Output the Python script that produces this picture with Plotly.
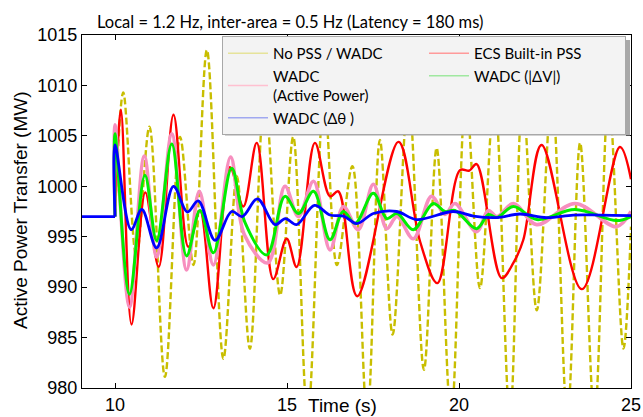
import plotly.graph_objects as go

# ---------------- data ----------------
t_pre = [9.04, 10.0]
p_pre = [997.0, 997.0]

t_nopss = [10.0, 10.24, 10.62, 11.0, 11.45, 11.89, 12.28, 12.67, 13.15, 13.54, 13.92, 14.35,
           14.80, 15.18, 15.60, 16.08, 16.45, 16.9, 17.33, 17.70, 18.07, 18.53, 18.98, 19.35,
           19.77, 20.2, 20.61, 21.03, 21.48, 21.85, 22.26, 22.7, 23.15, 23.52, 23.94, 24.35,
           24.78, 25.0]
p_nopss = [997.0, 1009.3, 993.0, 1005.9, 981.1, 1004.9, 992.2, 1013.5, 982.9, 1001.0, 983.9, 1009.0,
           989.2, 1004.9, 977.0, 1009.0, 992.2, 1002.0, 977.0, 1004.6, 985.3, 1009.0, 981.8, 1003.8,
           977.0, 1009.0, 989.9, 1009.0, 977.0, 1009.0, 987.7, 1009.0, 977.0, 1004.3, 977.0, 1009.0,
           983.9, 996.0]

t_ecs = [10.0, 10.17, 10.48, 10.88, 11.27, 11.70, 12.13, 12.47, 12.86, 13.34, 13.73, 14.12,
         14.60, 14.99, 15.28, 15.81, 16.25, 16.49, 17.04, 18.24, 18.87, 19.37, 20.03, 20.3,
         20.51, 21.24, 21.58, 21.87, 22.40, 23.57, 24.68, 25.0]
p_ecs = [997.0, 1007.6, 986.3, 999.4, 992.0, 1007.1, 994.0, 997.6, 987.9, 1001.9, 998.0, 1004.3,
         990.8, 994.8, 992.0, 1004.3, 999.0, 999.5, 989.1, 1004.4, 994.5, 990.4, 1001.6, 1001.55,
         1002.2, 990.9, 992.4, 994.7, 1004.1, 989.8, 1003.9, 1000.7]

t_ap = [10.0, 10.0, 10.42, 10.85, 11.21, 11.65, 12.08, 12.45, 12.86, 13.36, 13.76, 14.44,
        14.94, 15.33, 15.77, 16.25, 16.64, 17.07, 17.51, 17.90, 18.2, 18.67, 19.2, 19.59,
        19.88, 20.51, 20.85, 21.1, 21.58, 22.26, 23.37, 24.58, 25.0]
p_ap = [997.0, 1006.1, 988.0, 1003.0, 993.0, 1005.2, 991.7, 999.5, 992.2, 1002.9, 995.2, 992.4,
        1000.0, 997.0, 1000.5, 993.7, 998.0, 995.7, 1000.2, 995.8, 997.0, 994.8, 999.0, 997.2,
        998.3, 995.5, 997.6, 997.0, 998.3, 996.2, 998.3, 996.0, 997.5]

t_dv = [10.0, 10.0, 10.42, 10.87, 11.21, 11.65, 12.08, 12.47, 12.86, 13.39, 13.78, 14.41,
        14.94, 15.33, 15.77, 16.25, 16.64, 16.98, 17.51, 17.90, 18.2, 18.67, 19.25, 19.59,
        19.88, 20.51, 20.86, 21.1, 21.58, 22.26, 23.37, 24.58, 25.0]
p_dv = [997.0, 1005.2, 989.3, 1001.1, 994.6, 1004.2, 993.1, 997.6, 993.4, 1001.8, 996.4, 993.2,
        999.0, 997.3, 999.5, 994.7, 997.5, 996.3, 999.3, 996.8, 997.3, 995.7, 998.3, 997.5,
        997.6, 995.8, 997.2, 996.9, 998.0, 996.7, 997.7, 996.6, 997.0]

t_dth = [10.0, 10.0, 10.47, 10.78, 11.21, 11.70, 12.10, 12.42, 12.91, 13.39, 13.70, 14.14,
         14.65, 14.95, 15.28, 15.80, 16.25, 16.64, 17.03, 17.51, 18.19, 18.77, 19.83, 20.42,
         21.1, 21.77, 22.55, 23.32, 24.1, 25.0]
p_dth = [997.0, 1004.1, 995.7, 997.7, 993.9, 1000.0, 997.45, 998.55, 994.65, 997.5, 997.0, 998.75,
         996.2, 996.8, 996.2, 998.1, 997.15, 997.05, 996.3, 997.3, 997.5, 996.7, 997.5, 997.05,
         996.9, 997.25, 996.9, 997.15, 997.15, 997.1]

names = ["No PSS / WADC", "ECS Built-in PSS", "WADC<br>(Active Power)", "WADC (|ΔV|)", "WADC (Δθ )"]
line_colors = ["#c8be00", "#ff0000", "#f78fbf", "#00ee00", "#0000ff"]
legend_colors = ["#e6e39a", "#ff9a9a", "#ffc0d0", "#a0e8a0", "#a0a8f0"]

x_ticks = [10, 15, 20, 25]
y_ticks = [980, 985, 990, 995, 1000, 1005, 1010, 1015]

title_text = "Local = 1.2 Hz, inter-area = 0.5 Hz (Latency = 180 ms)"

# ---------------- figure ----------------
fig = go.Figure()

series = [(t_nopss, p_nopss, 2.4, "7px,3px"), (t_ecs, p_ecs, 2.4, "solid"),
          (t_ap, p_ap, 3.6, "solid"), (t_dv, p_dv, 3.0, "solid"), (t_dth, p_dth, 2.8, "solid")]

for (tx, py, w, dash), col in zip(series, line_colors):
    fig.add_trace(go.Scatter(x=tx, y=py, mode="lines", showlegend=False,
                             line=dict(color=col, width=w, dash=dash, shape="spline", smoothing=1.0),
                             hoverinfo="skip"))

fig.add_trace(go.Scatter(x=t_pre, y=p_pre, mode="lines", showlegend=False,
                         line=dict(color=line_colors[4], width=2.8), hoverinfo="skip"))

# legend-only entries (faded line samples as in the reference)
for nm, lc in zip(names, legend_colors):
    fig.add_trace(go.Scatter(x=[None], y=[None], mode="lines", name=nm,
                             line=dict(color=lc, width=1.5), showlegend=True))

W, H = 643, 417
L, R, T, B = 82, 12, 35, 29
pw, ph = W - L - R, H - T - B

def px2paper_x(px):
    return (px - L) / pw

def px2paper_y(py):
    return (H - B - py) / ph

axis_common = dict(showline=True, linecolor="black", linewidth=1.2, mirror="ticks",
                   ticks="inside", ticklen=5, tickcolor="black", showgrid=False, zeroline=False,
                   tickfont=dict(family="Liberation Sans, Arial", size=18, color="black"))

fig.update_layout(
    width=W, height=H,
    margin=dict(l=L, r=R, t=T, b=B, autoexpand=False),
    paper_bgcolor="white", plot_bgcolor="white",
    xaxis=dict(range=[9.04, 25.0], tickvals=x_ticks, ticktext=[str(v) for v in x_ticks], **axis_common),
    yaxis=dict(range=[980, 1015], tickvals=y_ticks, ticktext=[str(v) for v in y_ticks], **axis_common),
    legend=dict(orientation="h", x=px2paper_x(222), y=px2paper_y(36), xanchor="left", yanchor="top",
                entrywidth=146, entrywidthmode="pixels", traceorder="normal",
                bgcolor="#f3f3f3", bordercolor="#a8a8a8", borderwidth=1,
                font=dict(family="Lato, Open Sans", size=15, color="black"),
                itemwidth=40, tracegroupgap=0),
    showlegend=True,
)

# soft shadow behind the legend box
fig.add_shape(type="rect", xref="paper", yref="paper", layer="above",
              x0=px2paper_x(225), x1=px2paper_x(630), y0=px2paper_y(135.5), y1=px2paper_y(40),
              fillcolor="#a8a8a8", line=dict(width=0))

fig.add_annotation(text=title_text, xref="paper", yref="paper", x=px2paper_x(290), y=px2paper_y(22),
                   xanchor="center", yanchor="middle", showarrow=False,
                   font=dict(family="Lato, Open Sans", size=16.5, color="black"))
fig.add_annotation(text="Time (s)", xref="paper", yref="paper", x=px2paper_x(342), y=px2paper_y(405),
                   xanchor="center", yanchor="middle", showarrow=False,
                   font=dict(family="Liberation Sans, Arial", size=19, color="black"))
fig.add_annotation(text="Active Power Transfer (MW)", xref="paper", yref="paper", x=px2paper_x(20),
                   y=px2paper_y(210), xanchor="center", yanchor="middle", textangle=-90, showarrow=False,
                   font=dict(family="Liberation Sans, Arial", size=19, color="black"))

fig.write_html("out.html")
